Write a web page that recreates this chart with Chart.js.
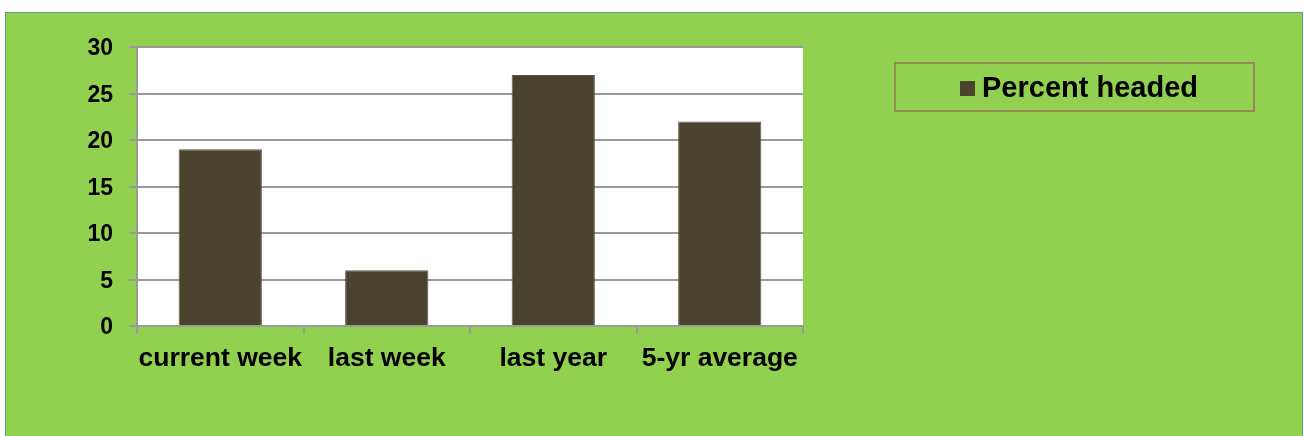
<!DOCTYPE html>
<html>
<head>
<meta charset="utf-8">
<script src="https://cdn.jsdelivr.net/npm/chart.js@4.4.0/dist/chart.umd.min.js"></script>
<style>
  html, body { margin: 0; padding: 0; background: #ffffff; }
  body { width: 1304px; height: 436px; position: relative; overflow: hidden; font-family: "Liberation Sans", Arial, sans-serif; }
  #panel { position: absolute; left: 5px; top: 12px; width: 1298px; height: 430px; background: #92D050; border: 1px solid #5f9a9a; box-sizing: border-box; }
  #wrap { position: absolute; left: 0; top: 0; width: 1304px; height: 436px; }
  #legend { position: absolute; left: 894px; top: 62px; width: 361px; height: 50px; border: 2px solid #948A54; box-sizing: border-box; display: flex; align-items: center; padding-left: 64px; }
  #legend .swatch { width: 15px; height: 15px; margin-right: 7px; margin-top: 2px; }
  #legend .label { font-weight: bold; font-size: 29px; color: #000; }
</style>
</head>
<body>
<div id="panel"></div>
<div id="wrap"><canvas id="chart"></canvas></div>
<div id="legend"></div>
<script>
// values
const categories = ['current week', 'last week', 'last year', '5-yr average'];
const percentHeaded = [19, 6, 27, 22];
const yTicks = [0, 5, 10, 15, 20, 25, 30];

const barColor = '#4A432D';
const gridColor = '#9a9a9a';

// white plot area behind the bars
const plotBackground = {
    id: 'plotBackground',
    beforeDraw(chart) {
        const { ctx, chartArea } = chart;
        ctx.save();
        ctx.fillStyle = '#ffffff';
        ctx.fillRect(chartArea.left, chartArea.top, chartArea.right - chartArea.left, chartArea.bottom - chartArea.top);
        ctx.restore();
    }
};

const chart = new Chart(document.getElementById('chart'), {
    type: 'bar',
    data: {
        labels: categories,
        datasets: [{
            label: 'Percent headed',
            data: percentHeaded,
            backgroundColor: barColor,
            borderColor: '#5e5845',
            borderWidth: 1,
            categoryPercentage: 0.5,
            barPercentage: 1.0
        }]
    },
    options: {
        responsive: true,
        maintainAspectRatio: false,
        animation: false,
        layout: {
            padding: { left: 0, right: 501, top: 47, bottom: 0 }
        },
        plugins: {
            legend: { display: false },
            tooltip: { enabled: false }
        },
        scales: {
            x: {
                offset: true,
                grid: {
                    display: true,
                    offset: true,
                    drawOnChartArea: false,
                    drawTicks: true,
                    tickLength: 8,
                    color: gridColor,
                    lineWidth: 2
                },
                border: { display: true, color: gridColor, width: 2 },
                ticks: {
                    color: '#000',
                    padding: 9,
                    maxRotation: 0,
                    font: { family: '"Liberation Sans", Arial, sans-serif', size: 26.5, weight: 'bold' }
                },
                afterFit(scale) { scale.height = 110; }
            },
            y: {
                min: 0,
                max: 30,
                afterBuildTicks(scale) {
                    scale.ticks = yTicks.map(v => ({ value: v }));
                },
                grid: {
                    color: gridColor,
                    lineWidth: 2,
                    drawTicks: true,
                    tickLength: 8
                },
                border: { display: true, color: gridColor, width: 2 },
                ticks: {
                    color: '#000',
                    padding: 16,
                    labelOffset: 2,
                    font: { family: '"Liberation Sans", Arial, sans-serif', size: 23, weight: 'bold' }
                },
                afterFit(scale) { scale.width = 137; }
            }
        }
    },
    plugins: [plotBackground]
});

// legend in its own framed box, built from the dataset
const legendEl = document.getElementById('legend');
chart.data.datasets.forEach(ds => {
    const sw = document.createElement('span');
    sw.className = 'swatch';
    sw.style.background = ds.backgroundColor;
    const lb = document.createElement('span');
    lb.className = 'label';
    lb.textContent = ds.label;
    legendEl.appendChild(sw);
    legendEl.appendChild(lb);
});
</script>
</body>
</html>
